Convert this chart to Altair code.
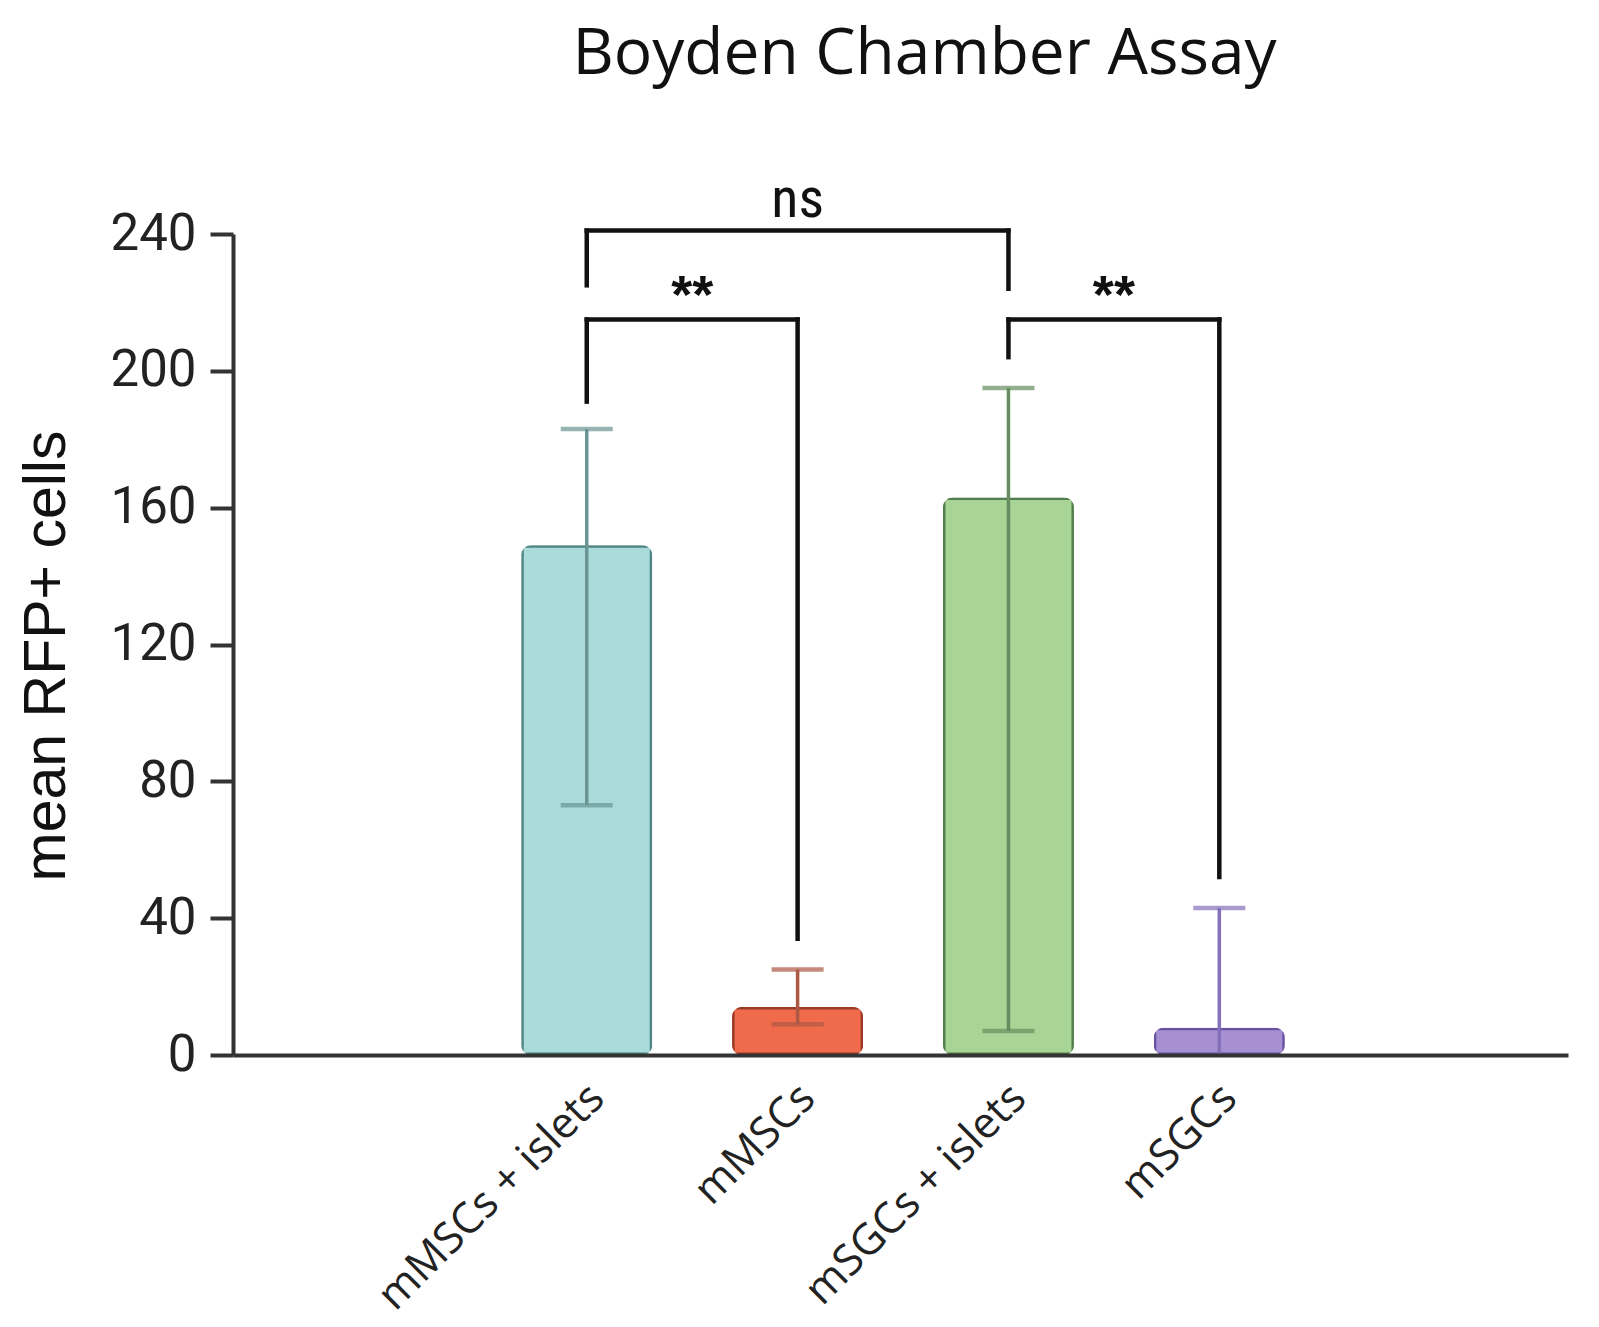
import json
import altair as alt
import pandas as pd

# ---- data ----
categories = ["mMSCs + islets", "mMSCs", "mSGCs + islets", "mSGCs"]
means = [149, 14, 163, 8]
err_low = [73, 9, 7, 0]
err_high = [183, 25, 195, 43]
low_cap = [True, True, True, False]

fill_colors = ["#a9dbdb", "#ef6b4b", "#a8d595", "#a690d2"]
stroke_colors = ["#4f8482", "#9a3a27", "#527d4d", "#6a52a3"]
err_colors = ["#6a9593", "#ad5845", "#658d5f", "#8470b8"]

# significance brackets: (left position, right position, top y, left leg bottom, right leg bottom)
brackets = [
    (0, 2, 241, 225, 224),
    (0, 1, 215, 191, 34),
    (2, 3, 215, 204, 52),
]
sig_labels = ["ns", "**", "**"]
sig_label_x = [1, 0.5, 2.5]
sig_label_y = [245, 217, 217]

positions = list(range(len(categories)))

bars = pd.DataFrame({
    "pos": positions, "cat": categories, "mean": means,
    "low": err_low, "high": err_high,
    "fill": fill_colors, "stroke": stroke_colors, "err": err_colors,
})
caps = pd.concat([
    pd.DataFrame({"pos": positions, "v": err_high, "err": err_colors}),
    pd.DataFrame({"pos": [p for p, c in zip(positions, low_cap) if c],
                  "v": [v for v, c in zip(err_low, low_cap) if c],
                  "err": [e for e, c in zip(err_colors, low_cap) if c]}),
], ignore_index=True)

hseg = pd.DataFrame({"x1": [b[0] for b in brackets], "x2": [b[1] for b in brackets],
                     "y": [b[2] for b in brackets]})
vseg_rows = []
for b in brackets:
    vseg_rows.append({"x": b[0], "y1": b[3], "y2": b[2]})
    vseg_rows.append({"x": b[1], "y1": b[4], "y2": b[2]})
vseg = pd.DataFrame(vseg_rows)
sig = pd.DataFrame({"t": sig_labels, "x": sig_label_x, "y": sig_label_y})

x_dom = [-1.654, 4.63]
y_dom = [0, 240]
label_expr = json.dumps(categories) + "[datum.value]"

xscale = alt.Scale(domain=x_dom, nice=False, zero=False)
yscale = alt.Scale(domain=y_dom, nice=False)

NARROW = "Liberation Sans Narrow, Roboto Condensed, Arial Narrow, Liberation Sans, sans-serif"

PLOT_W, PLOT_H = 1335, 821

x_axis = alt.Axis(values=positions, labelExpr=label_expr, title=None, ticks=False,
                  grid=False, labelAngle=-45, labelAlign="right", labelBaseline="middle",
                  labelFont="Open Sans", labelFontSize=43, labelColor="#222", labelLimit=800,
                  labelOverlap=False, labelBound=False,
                  labelPadding=36, labelOffset=10, domainColor="#333", domainWidth=4, zindex=1)
y_axis = alt.Axis(values=[0, 40, 80, 120, 160, 200, 240], title="mean RFP+ cells",
                  grid=False, tickSize=23, tickWidth=4, tickColor="#333",
                  domainColor="#333", domainWidth=4,
                  labelFont="Roboto", labelFontSize=51, labelColor="#222", labelPadding=14,
                  titleFont="Liberation Sans", titleFontSize=59, titleFontWeight="normal",
                  titleColor="#111", titlePadding=34, titleY=PLOT_H / 2 + 11)

base_bar = alt.Chart(bars)

bar_layer = base_bar.mark_bar(width=131, cornerRadius=10, strokeWidth=5).encode(
    x=alt.X("pos:Q", scale=xscale, axis=x_axis),
    y=alt.Y("mean:Q", scale=yscale, axis=y_axis),
    fill=alt.Fill("fill:N", scale=None),
    stroke=alt.Stroke("stroke:N", scale=None),
)

err_layer = base_bar.mark_rule(strokeWidth=3.5).encode(
    x=alt.X("pos:Q", scale=xscale),
    y=alt.Y("low:Q", scale=yscale),
    y2="high:Q",
    color=alt.Color("err:N", scale=None),
)

cap_layer = alt.Chart(caps).mark_tick(size=52, thickness=4.5, orient="horizontal").encode(
    x=alt.X("pos:Q", scale=xscale),
    y=alt.Y("v:Q", scale=yscale),
    color=alt.Color("err:N", scale=None),
)

h_layer = alt.Chart(hseg).mark_rule(strokeWidth=4.5, color="#111", strokeCap="square").encode(
    x=alt.X("x1:Q", scale=xscale), x2="x2:Q", y=alt.Y("y:Q", scale=yscale),
)
v_layer = alt.Chart(vseg).mark_rule(strokeWidth=4.5, color="#111", strokeCap="square").encode(
    x=alt.X("x:Q", scale=xscale), y=alt.Y("y1:Q", scale=yscale), y2="y2:Q",
)
ns_layer = alt.Chart(sig).transform_filter(alt.datum.t == "ns").mark_text(
    font=NARROW, fontSize=56, color="#111", baseline="alphabetic", align="center").encode(
    x=alt.X("x:Q", scale=xscale), y=alt.Y("y:Q", scale=yscale), text="t:N",
)
star_layer = alt.Chart(sig).transform_filter(alt.datum.t != "ns").mark_text(
    font="Liberation Sans", fontSize=54, fontWeight="bold", color="#111",
    baseline="alphabetic", align="center").encode(
    x=alt.X("x:Q", scale=xscale), y=alt.Y("y:Q", scale=yscale), text="t:N",
)

chart = alt.layer(bar_layer, err_layer, cap_layer, h_layer, v_layer, ns_layer, star_layer).properties(
    width=PLOT_W, height=PLOT_H,
    title=alt.TitleParams("Boyden Chamber Assay", font="Open Sans", fontSize=64,
                          fontWeight="normal", color="#111", offset=34, dx=24,
                          baseline="alphabetic", frame="group"),
    autosize=alt.AutoSizeParams(type="none"),
    padding={"left": 225, "top": 226, "right": 23, "bottom": 264},
).configure(background="white").configure_view(stroke=None)

chart.save("out.html", embed_options={"renderer": "svg", "actions": False})
